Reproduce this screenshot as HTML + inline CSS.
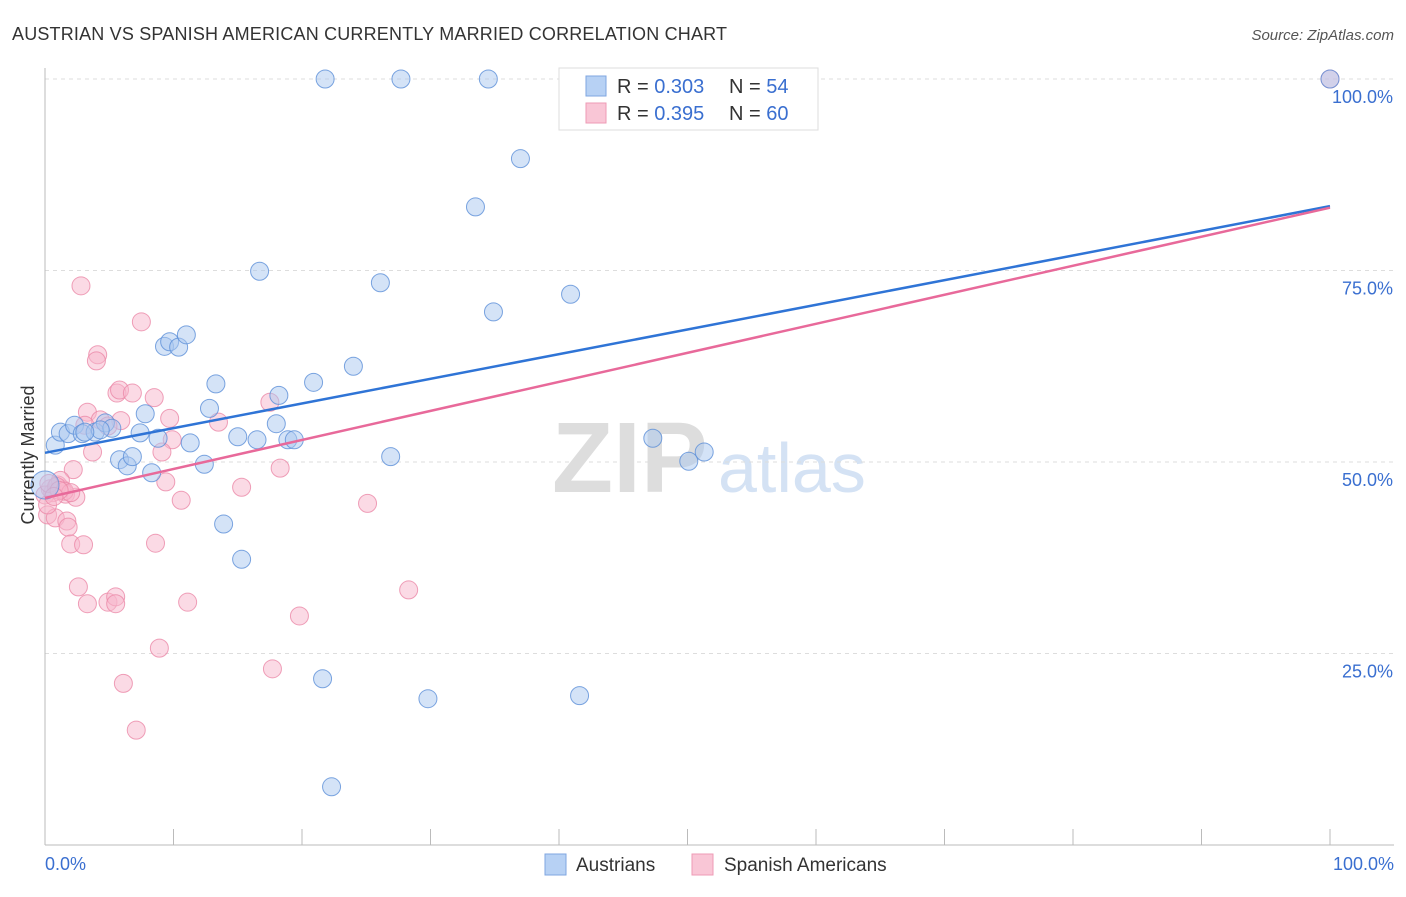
<!DOCTYPE html>
<html><head><meta charset="utf-8"><style>
body{margin:0;background:#fff;font-family:"Liberation Sans",sans-serif}
svg text{font-family:"Liberation Sans",sans-serif}
</style></head><body>
<svg id="chart" width="1406" height="892" xmlns="http://www.w3.org/2000/svg">
<text x="12" y="40" font-size="18" fill="#333" textLength="715">AUSTRIAN VS SPANISH AMERICAN CURRENTLY MARRIED CORRELATION CHART</text>
<text x="1394" y="40" font-size="15" fill="#555" text-anchor="end" font-style="italic">Source: ZipAtlas.com</text>
<text x="552" y="492" font-size="100" fill="#ddd" font-family="Liberation Serif" font-weight="bold">ZIP</text>
<text x="718" y="492" font-size="70" fill="#d4e2f4">atlas</text>
<g id="grid"></g>
<g id="marks"></g>
<text transform="translate(34,455) rotate(-90)" font-size="18" fill="#333" text-anchor="middle">Currently Married</text>
<g>
<rect x="559" y="68" width="259" height="62" fill="#fff" stroke="#ddd"/>
<rect x="586" y="76" width="20" height="20" fill="#b7d1f4" stroke="#7fa6e0"/>
<rect x="586" y="103" width="20" height="20" fill="#f9c6d6" stroke="#ee9bb5"/>
<text x="617" y="93" font-size="20" fill="#333">R = <tspan fill="#3a6fd0">0.303</tspan></text>
<text x="729" y="93" font-size="20" fill="#333">N = <tspan fill="#3a6fd0">54</tspan></text>
<text x="617" y="120" font-size="20" fill="#333">R = <tspan fill="#3a6fd0">0.395</tspan></text>
<text x="729" y="120" font-size="20" fill="#333">N = <tspan fill="#3a6fd0">60</tspan></text>
</g>
<g>
<rect x="545" y="854" width="21" height="21" fill="#b7d1f4" stroke="#7fa6e0"/>
<text x="576" y="871" font-size="19" fill="#333">Austrians</text>
<rect x="692" y="854" width="21" height="21" fill="#f9c6d6" stroke="#ee9bb5"/>
<text x="724" y="871" font-size="19" fill="#333">Spanish Americans</text>
</g>
</svg>
<script>
const yTicks=[25,50,75,100];
const yTickLabels=["25.0%","50.0%","75.0%","100.0%"];
const xTickCount=10;
const blueX=[0.8,1.2,1.8,2.3,2.9,3.9,4.7,5.2,5.8,6.4,6.8,7.4,7.8,8.3,8.8,9.3,9.7,10.4,11.0,11.3,12.4,12.8,13.3,13.9,15.0,15.3,16.5,16.7,18.0,18.2,18.9,19.4,20.9,21.6,21.8,22.3,24.0,26.1,26.9,27.7,29.8,33.5,34.5,34.9,37.0,40.9,41.6,47.3,50.1,51.3,100,0,4.3,3.1];
const blueY=[52.2,53.9,53.7,54.8,53.7,53.9,55.1,54.4,50.3,49.5,50.7,53.8,56.3,48.6,53.1,65.1,65.7,65.0,66.6,52.5,49.7,57.0,60.2,41.9,53.3,37.3,52.9,74.9,55.0,58.7,52.9,52.9,60.4,21.7,100,7.6,62.5,73.4,50.7,100,19.1,83.3,100,69.6,89.6,71.9,19.5,53.1,50.1,51.3,100,47.0,54.2,53.9];
const pinkX=[2.8,7.5,4.1,4.0,5.6,5.8,6.8,8.5,3.3,9.7,5.9,4.3,3.1,17.5,13.5,9.9,9.1,3.7,18.3,9.4,15.3,10.6,2.2,0.4,1.3,0.6,1.0,1.6,2.4,0.2,0.8,1.7,1.8,2.0,3.0,8.6,25.1,2.6,3.3,4.9,5.5,5.5,11.1,28.3,19.8,8.9,6.1,17.7,7.1,100,0,1.2,0.2,4.9,0.9,1.5,0.3,2.0,1.1,0.7];
const pinkY=[73.0,68.3,64.0,63.2,59.0,59.4,59.0,58.4,56.5,55.7,55.4,55.5,54.8,57.8,55.2,52.9,51.3,51.3,49.2,47.4,46.7,45.0,49.0,46.5,46.5,46.0,47.0,45.8,45.4,43.1,42.7,42.3,41.5,39.3,39.2,39.4,44.6,33.7,31.5,31.7,32.4,31.5,31.7,33.3,29.9,25.7,21.1,23.0,15.0,100,45.7,47.6,44.4,54.7,46.8,46.2,47.2,46.0,46.3,45.5];
const blueFit=[51.2,83.4];
const pinkFit=[45.3,83.2];
const NS="http://www.w3.org/2000/svg";
const X=v=>45+v*12.85, Y=v=>845-v*7.66;
function mk(t,a,p){const e=document.createElementNS(NS,t);for(const k in a)e.setAttribute(k,a[k]);p.appendChild(e);return e;}
const g=document.getElementById('grid'), m=document.getElementById('marks');
yTicks.forEach((t,i)=>{
 const l=mk('line',{x1:45,x2:1394,y1:Y(t),y2:Y(t),stroke:'#ddd','stroke-dasharray':'4,4'},g);
 
 
 const tx=mk('text',{x:1393,y:Y(t)+24,'font-size':18,fill:'#3a6fd0','text-anchor':'end'},g);
 tx.textContent=yTickLabels[i];
 
 
});
const ax=mk('line',{x1:45,x2:45,y1:68,y2:845,stroke:'#bbb'},g);


const bx=mk('line',{x1:45,x2:1394,y1:845,y2:845,stroke:'#bbb'},g);


for(let i=0;i<=xTickCount;i++){
 const v=i*100/xTickCount;
 const t=mk('line',{x1:X(v),x2:X(v),y1:829,y2:845,stroke:'#bbb'},g);
 
 
}
[[0,'0.0%','start',45],[100,'100.0%','end',1394]].forEach(d=>{
 const t=mk('text',{x:d[3],y:870,'font-size':18,fill:'#3a6fd0','text-anchor':d[2]},g);
 t.textContent=d[1];
 
 
});
function pts(xs,ys,fill,stroke,name){
 xs.forEach((x,i)=>{
  const r=(x===0&&name==='austrian-point')?14:9;
  const c=mk('circle',{cx:X(x),cy:Y(ys[i]),r:r,fill:fill,'fill-opacity':0.5,stroke:stroke,'stroke-opacity':0.8,'stroke-width':1},m);
  
  
 });
}
pts(pinkX,pinkY,'#f7b6cb','#eb88a8','spanish-american-point');
pts(blueX,blueY,'#a9c7ef','#5b8fd8','austrian-point');
const bl=mk('line',{x1:X(0),y1:Y(blueFit[0]),x2:X(100),y2:Y(blueFit[1]),stroke:'#2f74d6','stroke-width':2.5},m);


const pl=mk('line',{x1:X(0),y1:Y(pinkFit[0]),x2:X(100),y2:Y(pinkFit[1]),stroke:'#e8699a','stroke-width':2.5},m);


</script>
</body></html>
